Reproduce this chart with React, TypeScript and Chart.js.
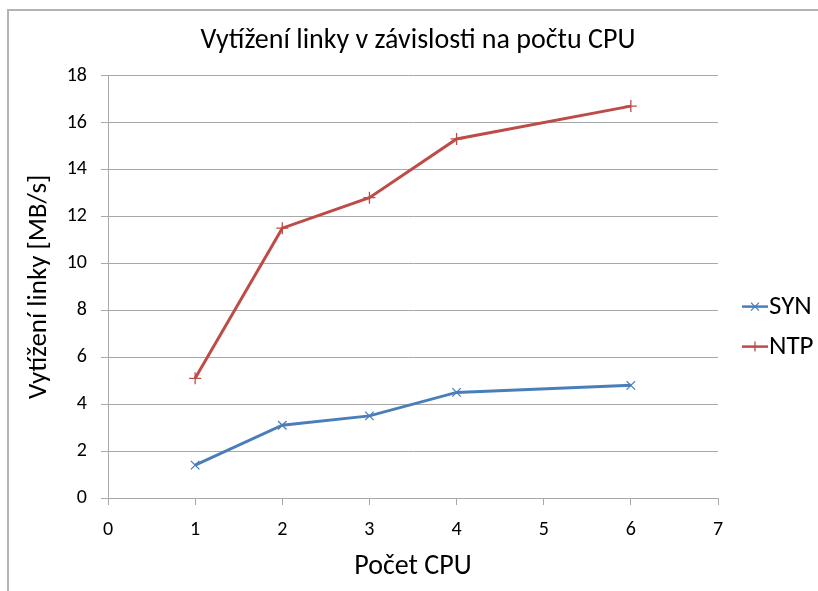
import React, { useEffect, useRef } from "react";
import { Chart, registerables } from "chart.js";

Chart.register(...registerables);

// ---- Data ----
const cpuCounts = [1, 2, 3, 4, 6];
const synValues = [1.4, 3.1, 3.5, 4.5, 4.8];
const ntpValues = [5.1, 11.5, 12.8, 15.3, 16.7];
const seriesNames = ["SYN", "NTP"];
const xRange = [0, 7];
const yRange = [0, 18];
const yStep = 2;
const chartTitle = "Vytížení linky v závislosti na počtu CPU";
const xTitle = "Počet CPU";
const yTitle = "Vytížení linky [MB/s]";

const FONT = "Carlito, Lato, 'Open Sans', 'Liberation Sans', sans-serif";
const SYN_COLOR = "#4A7EBB";
const NTP_COLOR = "#BE4B48";
const GRID = "#a8a8a8";

const framePlugin = {
  id: "frame",
  beforeDraw(chart: any) {
    const ctx = chart.ctx;
    ctx.save();
    ctx.fillStyle = "#b4b4b4";
    ctx.fillRect(7, 9, 2, chart.height - 9);
    ctx.fillRect(7, 9, chart.width - 7, 2);
    ctx.restore();
  },
};

const sideLegend = {
  id: "sideLegend",
  afterDraw(chart: any) {
    const ctx = chart.ctx;
    const area = chart.chartArea;
    const x0 = area.right + 24;
    const lineLen = 26;
    ctx.save();
    chart.data.datasets.forEach((ds: any, i: number) => {
      const y = area.top + 231 + i * 40;
      ctx.strokeStyle = ds.borderColor;
      ctx.lineWidth = 2.5;
      ctx.beginPath();
      ctx.moveTo(x0, y);
      ctx.lineTo(x0 + lineLen, y);
      ctx.stroke();
      const cx = x0 + lineLen / 2;
      const r = 5;
      ctx.lineWidth = 1.3;
      ctx.beginPath();
      if (ds.pointStyle === "crossRot") {
        ctx.moveTo(cx - r * 0.8, y - r * 0.8);
        ctx.lineTo(cx + r * 0.8, y + r * 0.8);
        ctx.moveTo(cx - r * 0.8, y + r * 0.8);
        ctx.lineTo(cx + r * 0.8, y - r * 0.8);
      } else {
        ctx.moveTo(cx, y - r);
        ctx.lineTo(cx, y + r);
      }
      ctx.stroke();
      ctx.fillStyle = "#000";
      ctx.font = `27px ${FONT}`;
      ctx.textAlign = "left";
      ctx.textBaseline = "middle";
      ctx.fillText(ds.label, x0 + lineLen + 1, y + 1);
    });
    ctx.restore();
  },
};

export default function App() {
  const ref = useRef<HTMLCanvasElement | null>(null);

  useEffect(() => {
    if (!ref.current) return;
    const chart = new Chart(ref.current, {
      type: "line",
      data: {
        datasets: [
          {
            label: seriesNames[0],
            data: cpuCounts.map((x, i) => ({ x, y: synValues[i] })),
            borderColor: SYN_COLOR,
            backgroundColor: SYN_COLOR,
            borderWidth: 3,
            pointStyle: "crossRot",
            pointRadius: 6,
            pointBorderWidth: 1.3,
            pointBorderColor: SYN_COLOR,
            tension: 0,
            yAxisID: "y",
          },
          {
            label: seriesNames[1],
            data: cpuCounts.map((x, i) => ({ x, y: ntpValues[i] })),
            borderColor: NTP_COLOR,
            backgroundColor: NTP_COLOR,
            borderWidth: 3,
            pointStyle: "cross",
            pointRadius: 6,
            pointBorderWidth: 1.3,
            pointBorderColor: NTP_COLOR,
            tension: 0,
            yAxisID: "y",
          },
        ],
      },
      options: {
        animation: false,
        responsive: false,
        devicePixelRatio: 1,
        layout: { padding: { left: 18, right: 0, top: 0, bottom: 0 } },
        plugins: {
          legend: { display: false },
          tooltip: { enabled: false },
          title: {
            display: true,
            text: chartTitle,
            color: "#000",
            font: { family: FONT, size: 28, weight: "normal" },
            padding: { top: 24, bottom: 18 },
          },
        },
        scales: {
          x: {
            type: "linear",
            min: xRange[0],
            max: xRange[1],
            ticks: {
              stepSize: 1,
              color: "#000",
              font: { family: FONT, size: 20 },
              padding: 13,
            },
            grid: {
              drawOnChartArea: false,
              drawTicks: true,
              tickLength: 7,
              color: GRID,
            },
            border: { color: GRID, width: 1 },
            title: {
              display: true,
              text: xTitle,
              color: "#000",
              font: { family: FONT, size: 28 },
              padding: { top: 0, bottom: 7 },
            },
            afterFit(scale: any) {
              scale.height = 93;
            },
          },
          y: {
            type: "linear",
            position: "left",
            min: yRange[0],
            max: yRange[1],
            ticks: {
              stepSize: yStep,
              color: "#000",
              font: { family: FONT, size: 20 },
              padding: 14,
            },
            grid: {
              drawOnChartArea: true,
              drawTicks: true,
              tickLength: 7,
              color: GRID,
            },
            border: { color: GRID, width: 1 },
            title: {
              display: true,
              text: yTitle,
              color: "#000",
              font: { family: FONT, size: 27 },
              padding: { top: 5, bottom: 0 },
            },
            afterFit(scale: any) {
              scale.width = 90;
            },
          },
          legendSpace: {
            type: "linear",
            position: "right",
            display: true,
            ticks: { display: false },
            grid: { display: false, drawTicks: false },
            border: { display: false },
            title: { display: false },
            afterFit(scale: any) {
              scale.width = 100;
            },
          },
        },
      },
      plugins: [framePlugin, sideLegend],
    } as any);
    return () => chart.destroy();
  }, []);

  return (
    <div style={{ position: "absolute", left: 0, top: 0, width: 818, height: 591, background: "#fff" }}>
      <canvas ref={ref} width={818} height={591} style={{ display: "block" }} />
    </div>
  );
}
